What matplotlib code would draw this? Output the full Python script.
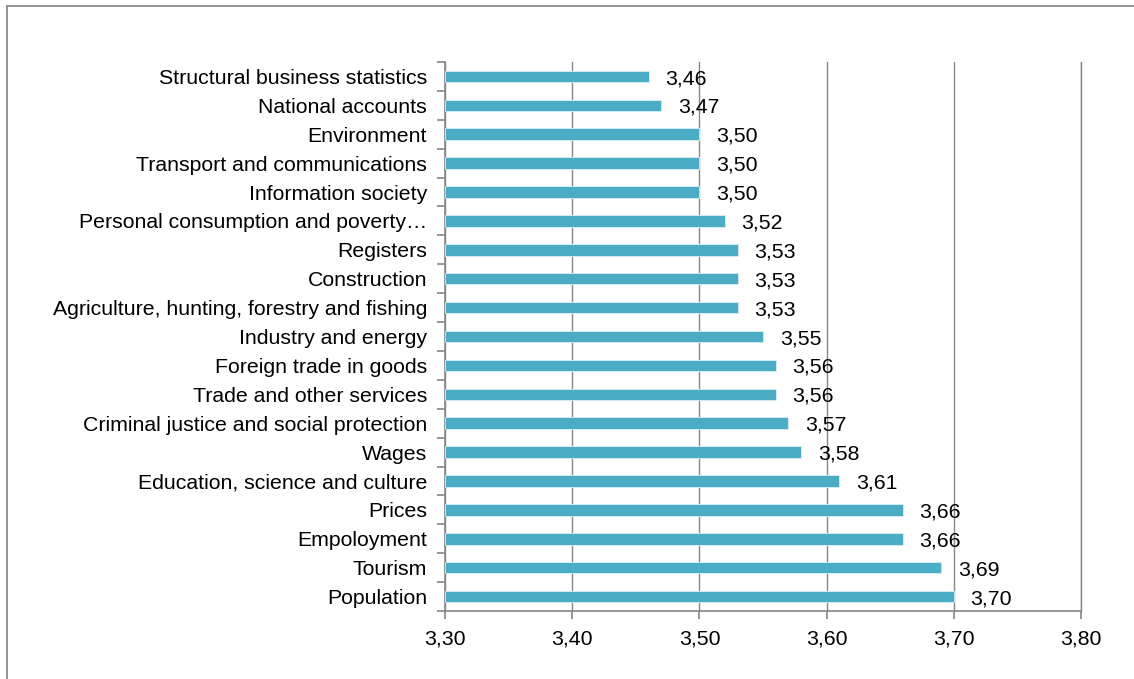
import matplotlib
matplotlib.use("Agg")
import matplotlib.pyplot as plt
from matplotlib.lines import Line2D

categories = [
    "Structural business statistics",
    "National accounts",
    "Environment",
    "Transport and communications",
    "Information society",
    "Personal consumption and poverty\u2026",
    "Registers",
    "Construction",
    "Agriculture, hunting, forestry and fishing",
    "Industry and energy",
    "Foreign trade in goods",
    "Trade and other services",
    "Criminal justice and social protection",
    "Wages",
    "Education, science and culture",
    "Prices",
    "Empoloyment",
    "Tourism",
    "Population",
]
values = [3.46, 3.47, 3.50, 3.50, 3.50, 3.52, 3.53, 3.53, 3.53, 3.55,
          3.56, 3.56, 3.57, 3.58, 3.61, 3.66, 3.66, 3.69, 3.70]
xticks = [3.30, 3.40, 3.50, 3.60, 3.70, 3.80]

plt.rcParams['font.family'] = ['Liberation Sans', 'DejaVu Sans']
FS = 15.3
GRAY = '#868686'
BAR = '#4BACC6'

fig = plt.figure(figsize=(11.34, 6.79), dpi=100)
ax = fig.add_axes([445/1134, 1-611/679, (1081-445)/1134, (611-62)/679])

base = xticks[0]
n = len(categories)
ypos = list(range(n))
ax.barh(ypos, [v - base for v in values], left=base, height=0.40,
        color=BAR, edgecolor='#DAEEF3', linewidth=0.6, zorder=3)

for y, v in zip(ypos, values):
    ax.annotate(f"{v:.2f}".replace('.', ','), xy=(v, y), xytext=(12, -1.5),
                textcoords='offset points', va='center', ha='left',
                fontsize=FS, color='black', zorder=4)

ax.set_xlim(xticks[0], xticks[-1])
ax.set_ylim(n - 0.5, -0.5)
ax.set_xticks(xticks)
ax.set_xticklabels([f"{t:.2f}".replace('.', ',') for t in xticks], fontsize=FS)
ax.set_yticks(ypos)
ax.set_yticklabels(categories, fontsize=FS)
ax.tick_params(axis='y', length=0, pad=13)
ax.set_yticks([i - 0.5 for i in range(n + 1)], minor=True)
ax.tick_params(axis='y', which='minor', length=6, color=GRAY, width=1.2)
ax.tick_params(axis='x', length=6, color=GRAY, width=1.2, pad=7)

ax.grid(axis='x', color=GRAY, linewidth=1.0, zorder=0)
ax.spines['top'].set_visible(False)
ax.spines['right'].set_color(GRAY)
ax.spines['right'].set_linewidth(1.0)
for s in ['left', 'bottom']:
    ax.spines[s].set_color(GRAY)
    ax.spines[s].set_linewidth(1.2)

# outer chart frame (left and top edges visible)
fig.add_artist(Line2D([6.5/1134, 6.5/1134], [0, 1-5.5/679], transform=fig.transFigure,
                      color='#8C8C8C', linewidth=1.3))
fig.add_artist(Line2D([6.5/1134, 1], [1-5.5/679, 1-5.5/679], transform=fig.transFigure,
                      color='#8C8C8C', linewidth=1.3))

fig.savefig("out.png", dpi=100)
